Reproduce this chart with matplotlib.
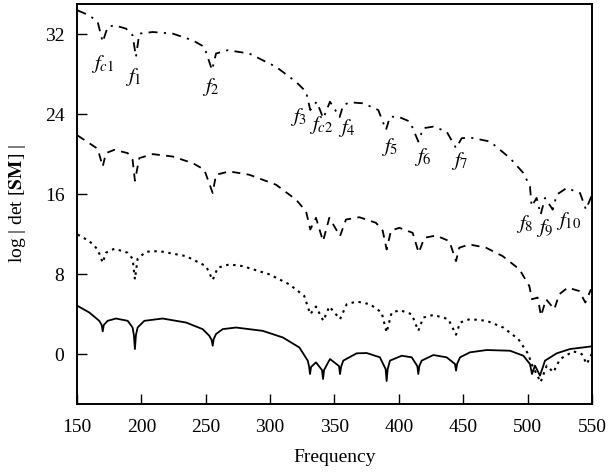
import matplotlib
matplotlib.use('Agg')
import matplotlib.pyplot as plt

plt.rcParams['font.family'] = ['Liberation Serif', 'DejaVu Serif']
plt.rcParams['mathtext.fontset'] = 'stix'

# values (frequency, log|det[SM]|)
solid_f = [150.5, 159.6, 167.3, 169.2, 170.0, 170.8, 173.8, 180.3, 189.4, 193.2, 194.2, 195.0,
           195.8, 197.1, 202.3, 216.5, 234.7, 247.6, 252.8, 254.6, 255.4, 256.2, 258.0, 263.2,
           273.5, 294.2, 309.8, 322.7, 329.2, 330.2, 331.0, 331.8, 335.6, 340.3, 341.1, 341.9,
           346.5, 353.5, 354.3, 355.1, 356.8, 367.2, 375.0, 385.3, 389.7, 390.5, 391.3, 393.1,
           402.2, 410.0, 414.3, 415.1, 415.9, 417.7, 426.8, 437.1, 443.6, 444.4, 445.2, 447.5,
           455.2, 468.2, 486.3, 496.7, 501.8, 503.4, 505.7, 509.6, 513.5, 522.6, 532.9, 543.2,
           549.7]
solid_y = [4.81, 4.15, 3.32, 2.9, 2.26, 2.9, 3.32, 3.55, 3.32, 2.65, 1.9, 0.5,
           1.9, 2.65, 3.32, 3.55, 3.15, 2.49, 1.82, 1.4, 0.83, 1.5, 2.0, 2.49,
           2.65, 2.32, 1.66, 0.66, -0.66, -1.2, -2.0, -1.3, -0.83, -1.6, -2.5, -1.6,
           -0.5, -1.2, -2.0, -1.3, -0.66, 0.07, 0.1, -0.33, -1.5, -2.7, -1.5, -0.66,
           -0.17, -0.33, -1.2, -2.0, -1.2, -0.66, -0.1, -0.33, -1.0, -1.66, -1.0, -0.33,
           0.17, 0.4, 0.33, -0.17, -1.0, -2.0, -1.16, -2.16, -0.66, 0.07, 0.5, 0.66,
           0.77]

dot_f = [150.5, 159.6, 166.1, 170.0, 172.5, 179.0, 189.4, 193.2, 195.0, 197.1, 203.6, 213.9,
         234.7, 250.2, 255.4, 259.3, 268.3, 278.7, 299.4, 314.9, 326.5, 331.2, 335.6, 341.3,
         346.0, 354.3, 359.5, 367.2, 377.6, 386.6, 390.5, 394.4, 400.9, 410.0, 415.1, 419.0,
         426.8, 438.4, 444.4, 447.5, 455.2, 468.2, 481.1, 492.8, 500.5, 503.1, 510.1, 514.8,
         520.0, 525.2, 535.5, 542.0, 545.9, 549.7]
dot_y = [11.95, 11.29, 10.46, 9.13, 10.13, 10.53, 10.13, 9.53, 7.47, 9.53, 10.23, 10.29,
         9.79, 8.79, 7.4, 8.63, 8.96, 8.79, 7.97, 6.97, 5.81, 3.98, 4.75, 3.32,
         4.75, 3.49, 4.98, 5.25, 4.98, 4.15, 2.16, 4.15, 4.38, 3.98, 2.32, 3.65,
         3.91, 3.49, 1.93, 3.15, 3.49, 3.32, 2.65, 1.49, 0.0, -1.0, -2.82, -1.16,
         -1.82, -0.5, 0.27, 0.0, -1.0, 0.0]

dash_f = [150.5, 159.6, 166.1, 170.0, 172.5, 179.0, 189.4, 193.2, 195.0, 198.4, 208.8, 224.3,
          239.9, 248.9, 255.4, 258.0, 268.3, 283.8, 304.6, 320.1, 327.9, 331.2, 335.6, 341.1,
          346.0, 354.3, 358.9, 369.3, 382.2, 387.4, 390.5, 393.9, 400.4, 410.7, 415.4, 419.8,
          428.8, 439.2, 444.4, 446.9, 454.7, 467.7, 480.6, 493.6, 501.3, 503.4, 507.8, 510.4,
          514.3, 520.7, 524.6, 531.1, 540.1, 544.8, 549.2]
dash_y = [21.85, 21.08, 20.52, 18.75, 20.09, 20.42, 20.09, 19.42, 17.33, 19.59, 19.99, 19.75,
          19.09, 18.43, 16.1, 17.93, 18.26, 17.93, 16.93, 15.44, 14.27, 12.45, 13.62, 11.29,
          13.62, 11.79, 13.45, 13.68, 13.12, 12.35, 10.46, 12.35, 12.62, 12.12, 10.13, 11.62,
          11.85, 11.29, 9.29, 10.63, 10.96, 10.63, 9.79, 8.47, 6.8, 5.48, 5.65, 3.82,
          5.48, 4.48, 5.98, 6.64, 6.3, 5.15, 6.47]

dd_f = [150.5, 159.6, 166.1, 170.0, 173.8, 179.0, 188.1, 193.2, 195.8, 198.4, 208.8, 224.3,
        239.9, 248.9, 254.9, 258.0, 267.0, 283.8, 304.6, 320.1, 327.9, 331.2, 336.2, 341.3,
        346.5, 354.0, 356.8, 362.0, 372.4, 384.0, 390.0, 393.1, 399.6, 408.6, 415.1, 419.0,
        426.8, 437.1, 444.4, 448.8, 455.2, 470.8, 486.3, 496.7, 501.8, 503.1, 507.0, 510.1,
        513.5, 519.5, 522.6, 530.3, 540.7, 545.3, 549.7]
dd_y = [34.36, 33.86, 33.2, 31.2, 32.7, 32.87, 32.54, 31.87, 29.71, 32.04, 32.2, 32.04,
        31.37, 30.71, 28.39, 30.05, 30.38, 30.05, 28.72, 27.22, 26.23, 24.4, 25.23, 23.57,
        25.23, 23.7, 24.9, 25.17, 25.07, 24.4, 22.41, 23.73, 23.73, 23.24, 21.25, 22.58,
        22.74, 22.24, 20.59, 21.58, 21.65, 21.25, 19.59, 18.1, 16.77, 14.77, 15.61, 13.94,
        15.61, 14.44, 15.94, 16.6, 16.1, 14.44, 15.84]

labels = ['$f_{c1}$', '$f_1$', '$f_2$', '$f_3$', '$f_{c2}$', '$f_4$', '$f_5$', '$f_6$',
          '$f_7$', '$f_8$', '$f_9$', '$f_{10}$']
label_x = [170.0, 193.7, 254.0, 321.9, 340.0, 359.5, 393.1, 419.0, 447.5, 498.0, 513.5, 531.6]
label_y = [29.05, 27.7, 26.66, 23.73, 22.9, 22.58, 20.75, 19.75, 19.35, 13.05, 12.6, 13.28]

fig = plt.figure(figsize=(6.08, 4.72), dpi=100)
ax = fig.add_axes([0.1266, 0.144, 0.8471, 0.8475])

ax.plot(solid_f, solid_y, color='black', lw=1.3, linestyle='-')
ax.plot(dot_f, dot_y, color='black', lw=1.5, linestyle=(0, (1.2, 2.2)))
ax.plot(dash_f, dash_y, color='black', lw=1.3, linestyle=(0, (4.5, 3.5)))
ax.plot(dd_f, dd_y, color='black', lw=1.3, linestyle=(0, (5, 3.5, 1.2, 3.5)))

for t, x, y in zip(labels, label_x, label_y):
    ax.text(x, y, t, fontsize=15, ha='center', va='center')

ax.set_xlim(150, 550)
ax.set_ylim(-5, 35)
ax.set_xticks([150, 200, 250, 300, 350, 400, 450, 500, 550])
ax.set_yticks([0, 8, 16, 24, 32])
ax.tick_params(direction='in', length=7, width=1, labelsize=14)
ax.tick_params(axis='x', pad=11)
ax.tick_params(axis='y', pad=9)
for s in ax.spines.values():
    s.set_linewidth(1.4)

ax.set_xlabel('Frequency', fontsize=14, labelpad=9)
ax.set_ylabel('log | det [$\\mathbf{SM}$] |', fontsize=14, labelpad=12)

fig.savefig('out.png', dpi=100)
